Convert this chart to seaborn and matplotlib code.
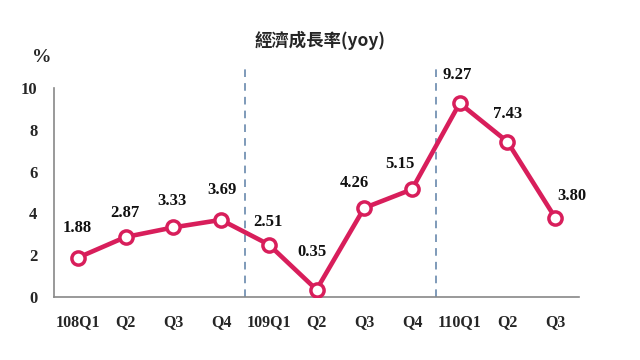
import numpy as np
import pandas as pd
import matplotlib
matplotlib.use("Agg")
import matplotlib.pyplot as plt
import seaborn as sns

quarters = ["108Q1", "Q2", "Q3", "Q4", "109Q1", "Q2", "Q3", "Q4", "110Q1", "Q2", "Q3"]
growth = [1.88, 2.87, 3.33, 3.69, 2.51, 0.35, 4.26, 5.15, 9.27, 7.43, 3.80]
value_labels = ["1.88", "2.87", "3.33", "3.69", "2.51", "0.35", "4.26", "5.15", "9.27", "7.43", "3.80"]
label_offsets = [(-1, 30), (-1, 24), (-1, 26), (1, 30), (-1, 23), (-4, 38),
                 (-10, 25), (-12, 25), (-2, 28), (0, 28), (17, 22)]
year_breaks = [3.5, 7.5]

sns.set_style("white")
plt.rcParams['font.family'] = ['Liberation Serif', 'DejaVu Serif']

df = pd.DataFrame({"pos": np.arange(len(quarters)), "growth": growth})

fig = plt.figure(figsize=(6.4, 3.6), dpi=100)
ax = fig.add_axes([54/640, 1-297/360, (579-54)/640, (297-88)/360])

line_color = "#D81E5B"
sns.lineplot(data=df, x="pos", y="growth", ax=ax, color=line_color, linewidth=3.3,
             marker="o", markersize=9.5, markerfacecolor="white",
             markeredgecolor=line_color, markeredgewidth=2.5, zorder=3)

for xb in year_breaks:
    ax.axvline(xb, ymin=0, ymax=1.11, color="#5B7FA6", linestyle=(0, (5, 4)),
               linewidth=1.1, clip_on=False, zorder=1)

for i, (v, t, off) in enumerate(zip(growth, value_labels, label_offsets)):
    ax.annotate(t, xy=(i, v), xytext=off, textcoords="offset pixels",
                ha="center", va="center", fontsize=12, fontweight="bold",
                color="#111111")

ax.set_xlim(-0.5, len(quarters) - 0.5)
ax.set_ylim(0, 10)
ax.set_xticks(np.arange(len(quarters)))
ax.set_xticklabels(quarters, fontsize=11.5, fontweight="bold")
ax.set_xticks(np.arange(-0.5, len(quarters) + 0.5, 1), minor=True)
ax.tick_params(axis="x", which="major", length=0, pad=12)
ax.tick_params(axis="x", which="minor", length=4, direction="in", color="#888888", width=1)
ax.set_yticks(np.arange(0, 11, 2))
ax.set_yticklabels([str(v) for v in range(0, 11, 2)], fontsize=12, fontweight="bold")
ax.tick_params(axis="y", length=4, direction="in", color="#888888", width=1, pad=12)
ax.set_xlabel("")
ax.set_ylabel("")
for s in ["top", "right"]:
    ax.spines[s].set_visible(False)
for s in ["left", "bottom"]:
    ax.spines[s].set_color("#888888")
    ax.spines[s].set_linewidth(1.2)

fig.text(42/640, 1-58/360, "%", ha="center", va="center", fontsize=14, fontweight="bold")
fig.text(320/640, 1-40/360, "經濟成長率(yoy)", ha="center", va="center", fontsize=12.5,
         fontweight="bold", family=["Noto Sans CJK TC", "DejaVu Sans"])

fig.savefig("out.png", dpi=100)
